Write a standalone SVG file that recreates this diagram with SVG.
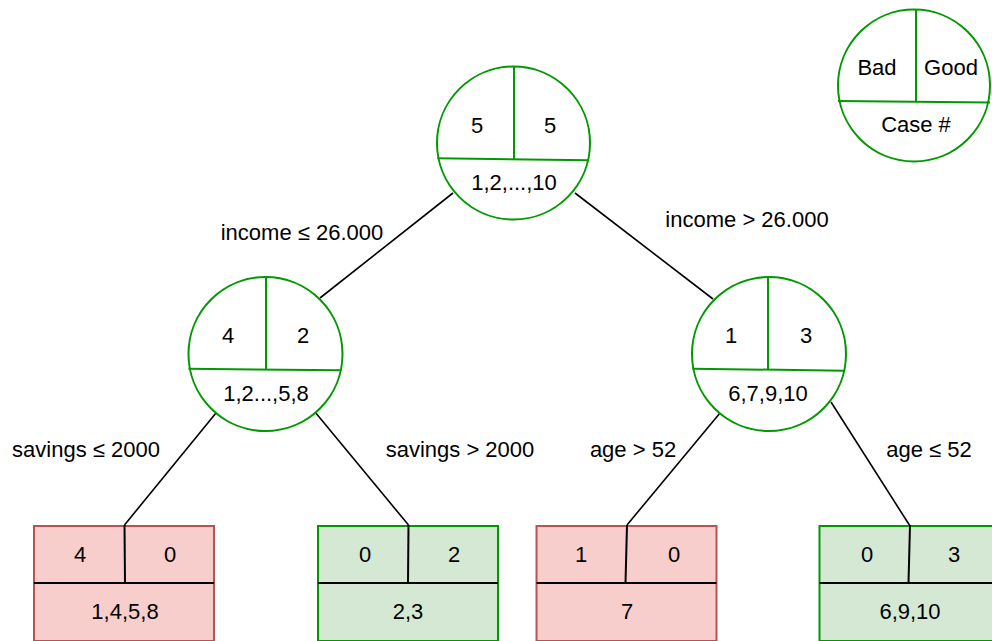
<svg xmlns="http://www.w3.org/2000/svg" width="992" height="641" viewBox="0 0 992 641">
<style>
text{font-family:"Liberation Sans",Arial,Helvetica,sans-serif;font-size:22px;fill:#000;text-anchor:middle}
.c{fill:#fff;stroke:#009900;stroke-width:2}
.g{stroke:#009900;stroke-width:2;fill:none}
.bad{fill:#f8cecc;stroke:#b85450;stroke-width:2}
.good{fill:#d5e8d4;stroke:#009900;stroke-width:2}
.k{stroke:#000;stroke-width:2;fill:none}
.e{stroke:#000;stroke-width:1.6;fill:none}
</style>
<rect width="992" height="641" fill="#fff"/>
<g id="connectors">
<line class="e" x1="453" y1="193" x2="320" y2="298"/>
<line class="e" x1="575" y1="193" x2="713" y2="299"/>
<line class="e" x1="216" y1="413" x2="124.5" y2="525"/>
<line class="e" x1="315" y1="412" x2="408.5" y2="525"/>
<line class="e" x1="720" y1="413" x2="627" y2="525"/>
<line class="e" x1="831" y1="402" x2="910" y2="526"/>
<text x="302" y="240">income ≤ 26.000</text>
<text x="747" y="227">income &gt; 26.000</text>
<text x="86" y="457">savings ≤ 2000</text>
<text x="460" y="457">savings &gt; 2000</text>
<text x="633" y="457">age &gt; 52</text>
<text x="929" y="457">age ≤ 52</text>
</g>
<g id="legend">
<circle class="c" cx="914" cy="85.5" r="76"/>
<line class="g" x1="916" y1="9.5" x2="916" y2="101"/>
<line class="g" x1="838" y1="101" x2="990" y2="102.5"/>
<text x="877" y="75">Bad</text>
<text x="951" y="75">Good</text>
<text x="916" y="132">Case #</text>
</g>
<g id="root">
<circle class="c" cx="513.5" cy="143" r="76.5"/>
<line class="g" x1="514" y1="66.5" x2="514" y2="159"/>
<line class="g" x1="437.5" y1="158.3" x2="589" y2="160.3"/>
<text x="477" y="133">5</text>
<text x="550" y="133">5</text>
<text x="514" y="190">1,2,...,10</text>
</g>
<g id="left">
<circle class="c" cx="265.5" cy="354" r="77"/>
<line class="g" x1="266" y1="277" x2="266" y2="369"/>
<line class="g" x1="188.5" y1="368.7" x2="341" y2="370.3"/>
<text x="228" y="343">4</text>
<text x="303" y="343">2</text>
<text x="266" y="401">1,2...,5,8</text>
</g>
<g id="right">
<circle class="c" cx="769" cy="354" r="77"/>
<line class="g" x1="768" y1="277" x2="768" y2="369"/>
<line class="g" x1="692.5" y1="368.7" x2="845" y2="370.7"/>
<text x="731" y="343">1</text>
<text x="806" y="343">3</text>
<text x="768" y="401">6,7,9,10</text>
</g>
<g id="leaf1">
<rect class="bad" x="34" y="526" width="180" height="115"/>
<line class="k" x1="124.5" y1="525" x2="125" y2="583"/>
<line class="k" x1="34" y1="583" x2="214" y2="583"/>
<text x="80" y="562">4</text>
<text x="170" y="562">0</text>
<text x="125" y="619">1,4,5,8</text>
</g>
<g id="leaf2">
<rect class="good" x="318" y="526" width="180" height="115"/>
<line class="k" x1="408.5" y1="525" x2="408" y2="583"/>
<line class="k" x1="318" y1="583" x2="498" y2="583"/>
<text x="365" y="562">0</text>
<text x="454" y="562">2</text>
<text x="408" y="619">2,3</text>
</g>
<g id="leaf3">
<rect class="bad" x="536.5" y="526" width="180" height="115"/>
<line class="k" x1="627" y1="525" x2="625.5" y2="583"/>
<line class="k" x1="536.5" y1="583" x2="716.5" y2="583"/>
<text x="581" y="562">1</text>
<text x="674" y="562">0</text>
<text x="627" y="619">7</text>
</g>
<g id="leaf4">
<rect class="good" x="819.5" y="526" width="180" height="115"/>
<line class="k" x1="910" y1="525" x2="908.5" y2="583"/>
<line class="k" x1="819.5" y1="583" x2="999.5" y2="583"/>
<text x="867" y="562">0</text>
<text x="954" y="562">3</text>
<text x="910" y="619">6,9,10</text>
</g>
</svg>
